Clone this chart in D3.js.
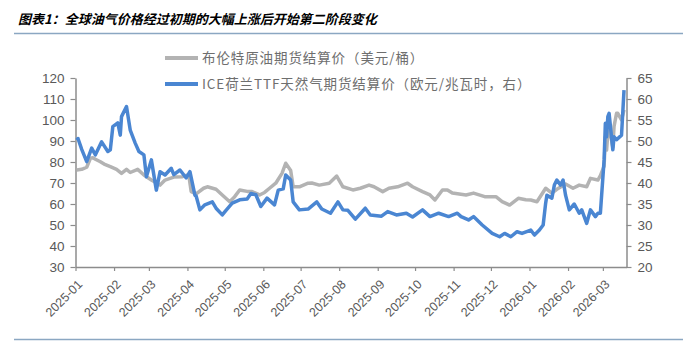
<!DOCTYPE html>
<html><head><meta charset="utf-8">
<script src="https://cdn.jsdelivr.net/npm/d3@7"></script>
<style>body{margin:0;background:#fff}svg{display:block}</style>
</head><body><svg id="c" width="683" height="342"></svg>
<script>
const titleText = "图表1：全球油气价格经过初期的大幅上涨后开始第二阶段变化";
const legendLabels = ["布伦特原油期货结算价（美元/桶）", "ICE荷兰TTF天然气期货结算价（欧元/兆瓦时，右）"];
const leftTicks = [30, 40, 50, 60, 70, 80, 90, 100, 110, 120];
const rightTicks = [20, 25, 30, 35, 40, 45, 50, 55, 60, 65];
const monthTicks = ["2025-01","2025-02","2025-03","2025-04","2025-05","2025-06","2025-07","2025-08","2025-09","2025-10","2025-11","2025-12","2026-01","2026-02","2026-03"];

const brentDates = ["2025-01-02","2025-01-06","2025-01-10","2025-01-13","2025-01-15","2025-01-17","2025-01-21","2025-01-24","2025-01-29","2025-02-03","2025-02-07","2025-02-11","2025-02-14","2025-02-20","2025-02-25","2025-03-03","2025-03-10","2025-03-14","2025-03-21","2025-03-28","2025-04-02","2025-04-04","2025-04-08","2025-04-14","2025-04-17","2025-04-24","2025-04-29","2025-05-05","2025-05-09","2025-05-13","2025-05-19","2025-05-23","2025-05-29","2025-06-02","2025-06-06","2025-06-11","2025-06-16","2025-06-19","2025-06-23","2025-06-25","2025-06-30","2025-07-07","2025-07-10","2025-07-16","2025-07-24","2025-07-30","2025-08-04","2025-08-12","2025-08-18","2025-08-25","2025-08-29","2025-09-05","2025-09-10","2025-09-17","2025-09-25","2025-09-29","2025-10-07","2025-10-13","2025-10-17","2025-10-23","2025-10-27","2025-10-31","2025-11-11","2025-11-17","2025-11-26","2025-12-05","2025-12-10","2025-12-16","2025-12-23","2025-12-29","2026-01-02","2026-01-07","2026-01-14","2026-01-19","2026-01-23","2026-01-30","2026-02-05","2026-02-10","2026-02-16","2026-02-19","2026-02-25","2026-02-27","2026-03-02","2026-03-03","2026-03-04","2026-03-05","2026-03-06","2026-03-09","2026-03-10","2026-03-12","2026-03-13","2026-03-16","2026-03-18"];
const brentValues = [76.2,76.5,77.5,81.8,82.0,81.3,80.1,79.0,77.8,76.5,74.6,76.5,75.0,76.5,73.8,71.4,69.0,71.4,72.8,73.0,74.0,65.9,64.8,67.5,68.2,67.0,64.3,61.1,63.5,66.7,66.0,65.9,64.3,65.5,67.5,69.9,74.6,79.4,76.0,68.2,68.2,69.9,70.0,69.0,69.9,73.3,68.2,66.7,67.5,69.0,68.2,65.9,67.5,68.2,69.9,68.2,65.9,64.3,61.9,66.7,66.7,65.2,64.3,65.2,63.5,63.5,61.1,59.5,62.7,62.0,61.9,61.1,67.5,65.2,67.0,69.5,67.5,69.0,68.2,72.2,71.4,73.5,78.0,92.0,85.7,93.7,96.8,87.0,97.0,103.2,103.2,100.0,104.8];

const ttfDates = ["2025-01-02","2025-01-03","2025-01-06","2025-01-10","2025-01-14","2025-01-17","2025-01-22","2025-01-27","2025-01-29","2025-01-31","2025-02-04","2025-02-06","2025-02-07","2025-02-11","2025-02-14","2025-02-18","2025-02-21","2025-02-25","2025-02-27","2025-03-03","2025-03-07","2025-03-10","2025-03-14","2025-03-19","2025-03-21","2025-03-26","2025-03-31","2025-04-03","2025-04-07","2025-04-08","2025-04-11","2025-04-15","2025-04-21","2025-04-24","2025-04-29","2025-05-02","2025-05-07","2025-05-13","2025-05-19","2025-05-22","2025-05-26","2025-05-30","2025-06-04","2025-06-10","2025-06-13","2025-06-17","2025-06-19","2025-06-23","2025-06-25","2025-06-30","2025-07-07","2025-07-14","2025-07-18","2025-07-25","2025-07-31","2025-08-04","2025-08-08","2025-08-14","2025-08-22","2025-08-26","2025-09-04","2025-09-09","2025-09-16","2025-09-24","2025-09-29","2025-10-07","2025-10-13","2025-10-20","2025-10-28","2025-11-04","2025-11-07","2025-11-13","2025-11-17","2025-11-24","2025-12-02","2025-12-08","2025-12-12","2025-12-17","2025-12-22","2025-12-26","2026-01-02","2026-01-05","2026-01-09","2026-01-12","2026-01-14","2026-01-15","2026-01-19","2026-01-21","2026-01-23","2026-01-26","2026-01-28","2026-01-30","2026-02-02","2026-02-06","2026-02-10","2026-02-12","2026-02-16","2026-02-19","2026-02-23","2026-02-25","2026-02-27","2026-03-02","2026-03-03","2026-03-04","2026-03-05","2026-03-06","2026-03-09","2026-03-10","2026-03-12","2026-03-16","2026-03-18"];
const ttfValues = [50.2,50.6,48.0,45.1,48.3,46.7,49.8,47.5,47.9,53.4,54.3,51.4,55.8,58.2,52.6,49.5,47.5,46.7,41.5,45.5,38.3,42.7,41.9,43.5,42.0,43.1,41.2,42.7,37.1,36.9,33.6,34.8,35.5,34.0,32.4,33.5,35.2,36.0,36.2,37.5,37.2,34.4,36.4,34.8,38.3,38.6,41.9,40.7,35.5,33.6,33.8,35.5,33.8,32.8,35.5,33.6,33.5,31.4,34.0,32.4,32.1,33.2,32.4,32.8,31.9,33.6,32.0,32.8,32.0,32.8,32.0,31.2,32.0,30.0,28.0,27.2,28.0,27.2,28.4,28.0,28.8,27.6,28.8,30.0,35.2,37.1,36.4,39.5,40.7,39.5,40.7,37.1,33.6,35.0,32.8,33.6,30.4,33.6,32.0,32.8,32.8,45.5,54.2,51.0,55.8,56.6,47.9,51.0,50.3,51.4,62.1];

const parse = d3.utcParse("%Y-%m-%d");
const svg = d3.select("#c");
const axisColor = "#8c8c8c", textColor = "#595959";
const grayColor = "#b3b3b3", blueColor = "#4a86d2";
const numFont = "'Liberation Sans', Arial, sans-serif";
const cjkFont = "'Noto Sans CJK SC', sans-serif";

const x = d3.scaleUtc().domain([parse("2025-01-01"), parse("2026-03-20")]).range([75.5, 626.5]);
const yL = d3.scaleLinear().domain([30, 120]).range([267, 78]);
const yR = d3.scaleLinear().domain([20, 65]).range([267, 78]);

// title
svg.append("text").attr("x", 18).attr("y", 24).text(titleText)
  .attr("font-family", cjkFont).attr("font-weight", "bold").attr("font-style", "italic")
  .attr("font-size", 13).attr("fill", "#000");
svg.append("line").attr("x1", 14).attr("x2", 683).attr("y1", 33.5).attr("y2", 33.5)
  .attr("stroke", "#8ba7c2").attr("stroke-width", 1.5);
svg.append("line").attr("x1", 14).attr("x2", 683).attr("y1", 339.5).attr("y2", 339.5)
  .attr("stroke", "#8ba7c2").attr("stroke-width", 1.5);

// legend
const legendColors = [grayColor, blueColor];
legendLabels.forEach((lab, i) => {
  const ly = 58 + i * 26;
  svg.append("line").attr("x1", 165).attr("x2", 198).attr("y1", ly).attr("y2", ly)
    .attr("stroke", legendColors[i]).attr("stroke-width", 4);
  svg.append("text").attr("x", 202).attr("y", ly).attr("dy", "0.36em").text(lab)
    .attr("font-family", cjkFont).attr("font-size", 13.5).attr("letter-spacing", 0.9)
    .attr("fill", "#6e6e6e");
});

// axes
function styleAxis(g) {
  g.select(".domain").attr("stroke", axisColor).attr("stroke-width", 1.5);
  g.selectAll(".tick line").attr("stroke", axisColor).attr("stroke-width", 1.2);
  g.selectAll(".tick text").attr("fill", textColor).attr("font-family", numFont);
}
const gL = svg.append("g").attr("transform", "translate(75.5,0)")
  .call(d3.axisLeft(yL).tickValues(leftTicks).tickSize(5).tickSizeOuter(0).tickPadding(6));
styleAxis(gL); gL.selectAll(".tick text").attr("font-size", 13.5);
const gR = svg.append("g").attr("transform", "translate(626.5,0)")
  .call(d3.axisRight(yR).tickValues(rightTicks).tickSize(5).tickSizeOuter(0).tickPadding(6));
styleAxis(gR); gR.selectAll(".tick text").attr("font-size", 13.5);
const gX = svg.append("g").attr("transform", "translate(0,267)")
  .call(d3.axisBottom(x).tickValues(monthTicks.map(m => parse(m + "-01")))
    .tickFormat(d3.utcFormat("%Y-%m")).tickSize(4).tickSizeOuter(0));
styleAxis(gX);
gX.selectAll(".tick text").attr("font-size", 12.5).attr("y", 0).attr("dy", "0.35em")
  .attr("text-anchor", "end").attr("transform", "translate(4,15) rotate(-45)");

// lines
const brent = brentDates.map((d, i) => ({ d: parse(d), v: brentValues[i] }));
const ttf = ttfDates.map((d, i) => ({ d: parse(d), v: ttfValues[i] }));
svg.append("path").datum(brent).attr("fill", "none").attr("stroke", grayColor)
  .attr("stroke-width", 3.5).attr("stroke-linejoin", "round")
  .attr("d", d3.line().x(p => x(p.d)).y(p => yL(p.v)));
svg.append("path").datum(ttf).attr("fill", "none").attr("stroke", blueColor)
  .attr("stroke-width", 3.5).attr("stroke-linejoin", "round")
  .attr("d", d3.line().x(p => x(p.d)).y(p => yR(p.v)));
</script></body></html>
